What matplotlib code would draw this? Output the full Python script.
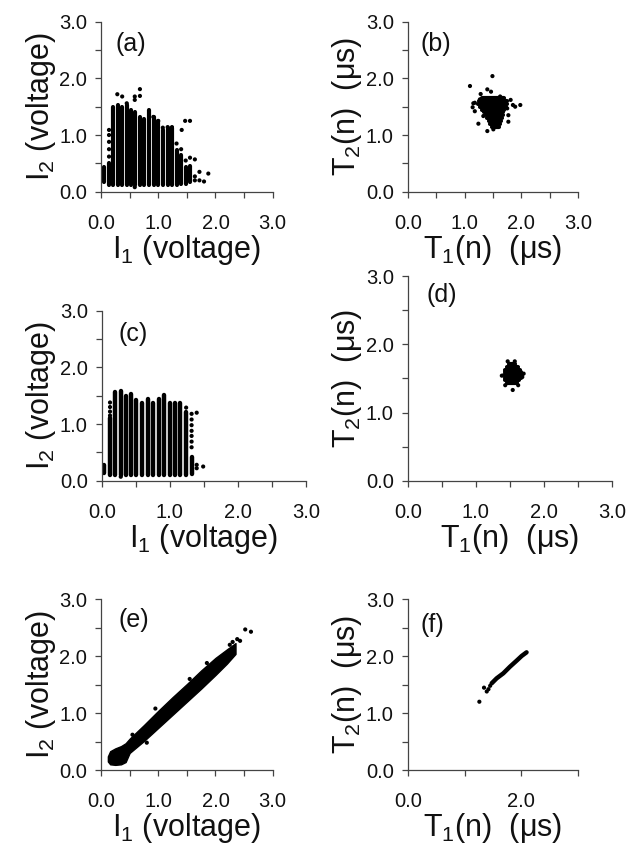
import matplotlib
matplotlib.use("Agg", force=True)
import matplotlib.pyplot as plt

plt.rcParams['font.family'] = ['Liberation Sans', 'DejaVu Sans']
plt.rcParams['mathtext.fontset'] = 'custom'
plt.rcParams['mathtext.rm'] = 'Liberation Sans'
plt.rcParams['mathtext.it'] = 'Liberation Sans:italic'

# ---- panel (a): I1 vs I2, vertical streaks (column x, streak bottom, streak top)
a_col_x = [0.05, 0.14, 0.215, 0.29, 0.37, 0.45, 0.52, 0.59, 0.68, 0.76,
           0.845, 0.93, 1.0, 1.08, 1.165, 1.24, 1.32, 1.40, 1.48, 1.555]
a_col_lo = [0.17, 0.12, 0.12, 0.12, 0.12, 0.12, 0.12, 0.12, 0.12, 0.12,
            0.12, 0.12, 0.12, 0.12, 0.12, 0.12, 0.12, 0.13, 0.14, 0.18]
a_col_hi = [0.43, 0.50, 1.50, 1.53, 1.50, 1.53, 1.45, 1.41, 1.32, 1.29,
            1.45, 1.32, 1.24, 1.09, 1.12, 1.13, 0.74, 0.65, 0.44, 0.45]
a_pts_x = [0.14, 0.14, 0.14, 0.14, 0.14, 0.285, 0.37, 0.59, 0.59, 0.68, 0.68,
           0.45, 0.915, 1.0, 1.08, 1.165, 1.24, 1.41, 1.47, 1.555, 1.32, 1.40,
           1.48, 1.555, 1.64, 1.64, 1.64, 1.72, 1.72, 1.80, 1.875, 0.59]
a_pts_y = [0.62, 0.75, 0.88, 1.00, 1.09, 1.72, 1.68, 1.62, 1.68, 1.81, 1.69,
           1.56, 1.32, 1.25, 1.13, 1.14, 1.14, 1.09, 1.25, 1.25, 0.85, 0.75,
           0.55, 0.60, 0.57, 0.27, 0.20, 0.35, 0.20, 0.18, 0.32, 0.08]

# ---- panel (b): T1(n) vs T2(n), dense core rows + scattered points
b_row_y = [1.65, 1.60, 1.55, 1.50, 1.45, 1.40, 1.35, 1.30, 1.25, 1.20, 1.15]
b_row_lo = [1.30, 1.25, 1.24, 1.27, 1.30, 1.34, 1.38, 1.40, 1.43, 1.45, 1.49]
b_row_hi = [1.70, 1.74, 1.75, 1.72, 1.70, 1.68, 1.67, 1.65, 1.64, 1.63, 1.61]
b_pts_x = [1.49, 1.095, 1.40, 1.465, 1.283, 1.154, 1.18, 1.142, 1.18, 1.33,
           1.243, 1.40, 1.506, 1.58, 1.77, 1.77, 1.75, 1.85, 1.81, 1.89,
           1.98, 1.625, 1.27]
b_pts_y = [2.04, 1.865, 1.806, 1.765, 1.724, 1.56, 1.57, 1.49, 1.42, 1.335,
           1.20, 1.07, 1.10, 1.147, 1.235, 1.35, 1.47, 1.53, 1.62, 1.50,
           1.53, 1.68, 1.63]

# ---- panel (c): I1 vs I2, vertical streaks
c_col_x = [0.034, 0.122, 0.20, 0.28, 0.36, 0.435, 0.51, 0.59, 0.675, 0.76,
           0.84, 0.915, 1.0, 1.08, 1.155, 1.24, 1.32]
c_col_lo = [0.14, 0.10, 0.10, 0.10, 0.10, 0.10, 0.10, 0.10, 0.10, 0.10,
            0.10, 0.10, 0.10, 0.10, 0.10, 0.10, 0.12]
c_col_hi = [0.28, 1.10, 1.56, 1.58, 1.49, 1.53, 1.42, 1.38, 1.44, 1.38,
            1.44, 1.52, 1.38, 1.38, 1.38, 1.22, 0.42]
c_pts_x = [0.122, 0.122, 0.122, 0.122, 1.24, 1.32, 1.32, 1.32, 1.32, 1.32,
           1.32, 1.32, 1.395, 1.395, 1.395, 1.49, 0.28]
c_pts_y = [1.38, 1.30, 1.22, 1.15, 1.29, 1.18, 1.08, 0.98, 0.88, 0.79,
           0.69, 0.59, 1.20, 0.28, 0.22, 0.25, 0.07]

# ---- panel (d): T1(n) vs T2(n), compact blob
d_row_y = [1.71, 1.67, 1.63, 1.59, 1.55, 1.51, 1.47, 1.43]
d_row_lo = [1.48, 1.45, 1.43, 1.42, 1.41, 1.42, 1.43, 1.46]
d_row_hi = [1.58, 1.62, 1.64, 1.66, 1.67, 1.66, 1.63, 1.60]
d_pts_x = [1.466, 1.57, 1.38, 1.70, 1.54, 1.62, 1.43, 1.68]
d_pts_y = [1.75, 1.75, 1.54, 1.57, 1.33, 1.40, 1.40, 1.52]

# ---- panel (e): I1 vs I2, narrow diagonal band (lower / upper edge)
e_x = [0.12, 0.16, 0.25, 0.35, 0.43, 0.50, 0.75, 1.00, 1.25, 1.50, 1.75,
       2.00, 2.20, 2.35]
e_lo = [0.15, 0.10, 0.09, 0.10, 0.14, 0.30, 0.51, 0.74, 0.97, 1.20, 1.43,
        1.67, 1.87, 2.04]
e_hi = [0.24, 0.33, 0.38, 0.42, 0.47, 0.55, 0.79, 1.04, 1.28, 1.51, 1.75,
        1.97, 2.12, 2.23]
e_pts_x = [2.30, 2.38, 2.43, 2.25, 2.52, 2.62, 0.55, 0.95, 1.55, 1.85, 0.80]
e_pts_y = [2.25, 2.30, 2.27, 2.20, 2.47, 2.43, 0.62, 1.08, 1.60, 1.88, 0.48]

# ---- panel (f): T1(n) vs T2(n), thin diagonal
f_x = [1.476, 1.564, 1.681, 1.799, 1.916, 2.004, 2.09]
f_y = [1.523, 1.611, 1.699, 1.816, 1.922, 2.004, 2.068]
f_pts_x = [1.26, 1.342, 1.42, 1.39, 1.45]
f_pts_y = [1.20, 1.447, 1.42, 1.38, 1.48]

ticks_major = [0.0, 1.0, 2.0, 3.0]
ticks_minor = [0.5, 1.5, 2.5]
tick_labels = ['0.0', '1.0', '2.0', '3.0']

I_XLABEL = r'I$_1$ (voltage)'
I_YLABEL = r'I$_2$ (voltage)'
T_XLABEL = r'T$_1$(n)  (μs)'
T_YLABEL = r'T$_2$(n)  (μs)'

W, H = 635, 844
fig = plt.figure(figsize=(W / 100, H / 100), dpi=100)


def make_axes(x0, x1, top, bot):
    return fig.add_axes([x0 / W, 1 - bot / H, (x1 - x0) / W, (bot - top) / H])


def style_axes(ax, xlabel, ylabel, tag, tag_xy, xlabels=tick_labels, xminor=True):
    ax.set_xlim(0, 3)
    ax.set_ylim(0, 3)
    for s in ['top', 'right']:
        ax.spines[s].set_visible(False)
    for s in ['left', 'bottom']:
        ax.spines[s].set_color('#444444')
        ax.spines[s].set_linewidth(0.9)
    ax.set_xticks(ticks_major)
    ax.set_xticklabels(xlabels)
    if xminor:
        ax.set_xticks(ticks_minor, minor=True)
    ax.set_yticks(ticks_major)
    ax.set_yticklabels(tick_labels)
    ax.set_yticks(ticks_minor, minor=True)
    ax.tick_params(axis='both', which='both', direction='out', length=4,
                   width=0.9, color='#444444', labelsize=14.5, labelcolor='#111111')
    ax.tick_params(axis='x', which='major', pad=12)
    ax.tick_params(axis='y', which='major', pad=6)
    ax.set_xlabel(xlabel, fontsize=22, labelpad=0, color='#111111')
    ax.set_ylabel(ylabel, fontsize=22, labelpad=1, color='#111111')
    ax.text(tag_xy[0], tag_xy[1], tag, fontsize=18, ha='left', va='center',
            color='#111111')


dot = dict(s=9, color='black', edgecolors='none', zorder=3)

# (a)
ax = make_axes(101, 272.7, 21.7, 191.7)
ax.vlines(a_col_x, a_col_lo, a_col_hi, color='black', linewidth=3.0, capstyle='round')
ax.scatter(a_pts_x, a_pts_y, **dot)
style_axes(ax, I_XLABEL, I_YLABEL, '(a)', (0.26, 2.6))

# (b)
ax = make_axes(407.7, 578.3, 21.7, 191.7)
ax.hlines(b_row_y, b_row_lo, b_row_hi, color='black', linewidth=3.0, capstyle='round')
ax.scatter(b_pts_x, b_pts_y, **dot)
style_axes(ax, T_XLABEL, T_YLABEL, '(b)', (0.22, 2.6))

# (c)
ax = make_axes(101.7, 306.0, 310.7, 480.7)
ax.vlines(c_col_x, c_col_lo, c_col_hi, color='black', linewidth=3.2, capstyle='round')
ax.scatter(c_pts_x, c_pts_y, **dot)
style_axes(ax, I_XLABEL, I_YLABEL, '(c)', (0.24, 2.59))

# (d)
ax = make_axes(407.7, 612.3, 276.1, 480.7)
ax.hlines(d_row_y, d_row_lo, d_row_hi, color='black', linewidth=3.0, capstyle='round')
ax.scatter(d_pts_x, d_pts_y, **dot)
style_axes(ax, T_XLABEL, T_YLABEL, '(d)', (0.27, 2.72))

# (e)
ax = make_axes(101, 272.7, 599.3, 770)
ax.fill_between(e_x, e_lo, e_hi, color='black', linewidth=1.0, edgecolor='black')
ax.scatter(e_pts_x, e_pts_y, **dot)
style_axes(ax, I_XLABEL, I_YLABEL, '(e)', (0.30, 2.64))

# (f)
ax = make_axes(407.7, 578.3, 599.3, 770)
ax.plot(f_x, f_y, color='black', linewidth=3.2, solid_capstyle='round')
ax.scatter(f_pts_x, f_pts_y, **dot)
style_axes(ax, T_XLABEL, T_YLABEL, '(f)', (0.22, 2.55),
           xlabels=['0.0', '', '2.0', ''], xminor=False)

fig.savefig('out.png', dpi=100)
plt.close(fig)
